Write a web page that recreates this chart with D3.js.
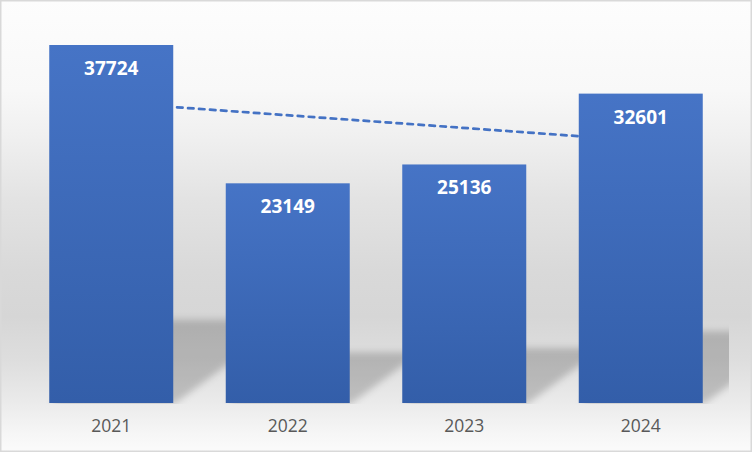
<!DOCTYPE html>
<html>
<head>
<meta charset="utf-8">
<script src="https://cdn.jsdelivr.net/npm/d3@7.9.0/dist/d3.min.js"></script>
<style>
    html, body { margin: 0; padding: 0; background: #fff; }
    svg { display: block; }
</style>
</head>
<body>
<svg id="chart" width="752" height="452"></svg>
<script>
// chart data
let years = ["2021", "2022", "2023", "2024"];
let values = [37724, 23149, 25136, 32601];
let yDomainMax = 40000;

let width = 752, height = 452;
let plot = { left: 23, right: 729, top: 23.4, bottom: 403 };

let svg = d3.select("#chart");
let defs = svg.append("defs");

// background gradient (white -> grey -> white, Excel style)
let bg = defs.append("linearGradient")
    .attr("id", "bgGrad")
    .attr("x1", 0).attr("y1", 0).attr("x2", 0).attr("y2", 1);
[
    [0, "#fdfdfd"], [0.2, "#f8f8f8"], [0.3, "#f0f0f0"], [0.44, "#e3e3e3"],
    [0.6, "#d9d9d9"], [0.7, "#d6d6d6"], [0.8, "#dedede"], [0.88, "#e9e9e9"],
    [0.96, "#f6f6f6"], [1, "#fbfbfb"]
].forEach(([o, c]) => bg.append("stop").attr("offset", o).attr("stop-color", c));

// bar fill gradient
let barGrad = defs.append("linearGradient")
    .attr("id", "barGrad")
    .attr("x1", 0).attr("y1", 0).attr("x2", 0).attr("y2", 1);
barGrad.append("stop").attr("offset", 0).attr("stop-color", "#4674c6");
barGrad.append("stop").attr("offset", 1).attr("stop-color", "#335ea9");

// blur for the perspective shadow
defs.append("filter")
    .attr("id", "shadowBlur")
    .attr("x", "-30%").attr("y", "-30%").attr("width", "160%").attr("height", "160%")
    .append("feGaussianBlur").attr("stdDeviation", 3.5);

defs.append("clipPath")
    .attr("id", "plotClip")
    .append("rect")
    .attr("x", plot.left).attr("y", 0)
    .attr("width", plot.right - plot.left).attr("height", plot.bottom + 1);

svg.append("rect")
    .attr("x", 0).attr("y", 0)
    .attr("width", width).attr("height", height)
    .attr("fill", "url(#bgGrad)");

// scales
let x = d3.scaleBand()
    .domain(years)
    .range([plot.left, plot.right])
    .paddingInner(0.2975)
    .paddingOuter(0.1487);

let y = d3.scaleLinear()
    .domain([0, yDomainMax])
    .range([plot.bottom, plot.top]);

let cx = (i) => x(years[i]) + x.bandwidth() / 2;

// perspective shadows (bar squashed vertically and skewed to the right)
let shadowScale = 0.235, skew = 1.35;
svg.append("g")
    .attr("clip-path", "url(#plotClip)")
    .append("g")
    .attr("filter", "url(#shadowBlur)")
    .selectAll("path")
    .data(values)
    .enter()
    .append("path")
    .attr("d", (d, i) => {
        let x0 = x(years[i]) + 1, x1 = x(years[i]) + x.bandwidth() + 1;
        let b = y(0) + 1;
        let h = (y(0) - y(d)) * shadowScale;
        return `M${x0},${b}L${x1},${b}L${x1 + h * skew},${b - h}L${x0 + h * skew},${b - h}Z`;
    })
    .attr("fill", "#000")
    .attr("fill-opacity", 0.19);

// linear trendline (least squares over category index)
let n = values.length;
let xs = values.map((_, i) => i + 1);
let mx = d3.mean(xs), my = d3.mean(values);
let slope = d3.sum(xs, (xi, i) => (xi - mx) * (values[i] - my)) / d3.sum(xs, (xi) => (xi - mx) ** 2);
let trendEnds = [0, n - 1].map((i) => ({ i: i, v: my + slope * (xs[i] - mx) }));

let line = d3.line()
    .x((d) => cx(d.i))
    .y((d) => y(d.v));

svg.append("path")
    .datum(trendEnds)
    .attr("d", line)
    .attr("fill", "none")
    .attr("stroke", "#4472c4")
    .attr("stroke-width", 2.7)
    .attr("stroke-dasharray", "5.5,5.5")
    .attr("stroke-linecap", "round");

// bars
svg.append("g")
    .selectAll("rect")
    .data(values)
    .enter()
    .append("rect")
    .attr("x", (d, i) => x(years[i]))
    .attr("y", (d) => y(d))
    .attr("width", x.bandwidth())
    .attr("height", (d) => y(0) - y(d))
    .attr("fill", "url(#barGrad)");

// data labels inside the bar tops
svg.append("g")
    .selectAll("text")
    .data(values)
    .enter()
    .append("text")
    .attr("x", (d, i) => cx(i))
    .attr("y", (d) => y(d) + 30)
    .attr("text-anchor", "middle")
    .attr("fill", "#ffffff")
    .style("font-family", "'Open Sans', sans-serif")
    .style("font-weight", "bold")
    .style("font-size", "19px")
    .text((d) => d);

// category axis labels
let xAxis = svg.append("g")
    .attr("transform", `translate(0,${plot.bottom})`)
    .call(d3.axisBottom(x).tickSize(0).tickPadding(17));
xAxis.select(".domain").remove();
xAxis.selectAll("text")
    .attr("fill", "#595959")
    .style("font-family", "'Open Sans', sans-serif")
    .style("font-size", "17.5px");

// chart border
svg.append("rect")
    .attr("x", 0.75).attr("y", 0.75)
    .attr("width", width - 1.5).attr("height", height - 1.5)
    .attr("fill", "none")
    .attr("stroke", "#d9d9d9")
    .attr("stroke-width", 1.5);
</script>
</body>
</html>
